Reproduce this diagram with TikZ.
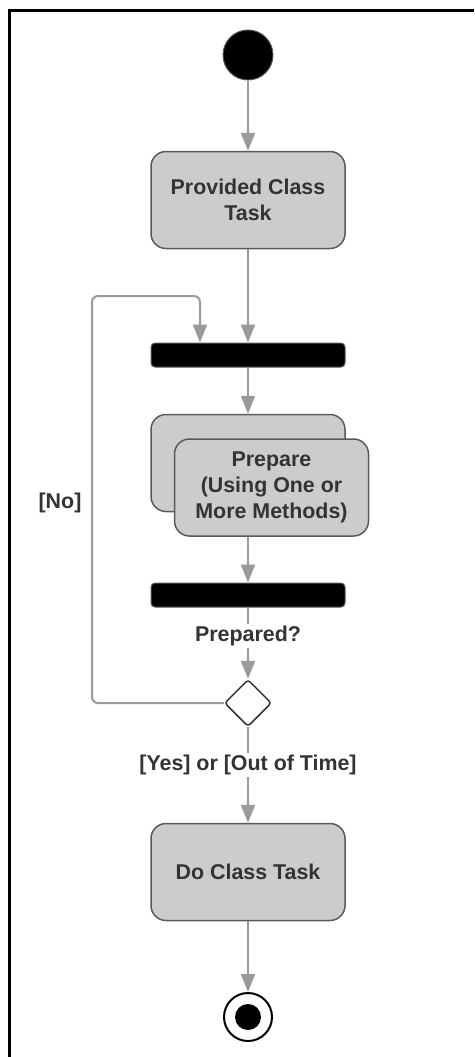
\documentclass[tikz,border=0pt]{standalone}
\usepackage{fontspec}
\setmainfont{Liberation Sans}
\usetikzlibrary{shapes.geometric,arrows.meta,positioning}
\definecolor{linegray}{HTML}{9A9A9A}
\definecolor{boxgray}{HTML}{CCCCCC}
\definecolor{edgegray}{HTML}{5A5A5A}
\definecolor{textgray}{HTML}{333333}
\tikzstyle{startnode} = [circle, minimum size=50pt, inner sep=0pt, fill=black, draw=edgegray, line width=1pt]
\tikzstyle{stopnode} = [circle, minimum size=48pt, inner sep=0pt, draw=black, line width=2pt, fill=white, path picture={\fill[black] (path picture bounding box.center) circle (13pt);}]
\tikzstyle{action} = [rectangle, rounded corners=15pt, minimum width=194pt, minimum height=97pt, text centered, align=center, draw=edgegray, line width=1.5pt, fill=boxgray, text=textgray, font=\bfseries\fontsize{21.4pt}{26pt}\selectfont]
\tikzstyle{forkbar} = [rectangle, rounded corners=4pt, minimum width=194pt, minimum height=24pt, inner sep=0pt, fill=black, draw=edgegray, line width=1pt]
\tikzstyle{decision} = [diamond, minimum width=47pt, minimum height=47pt, inner sep=0pt, rounded corners=3pt, draw=textgray, line width=1.5pt, fill=white]
\tikzstyle{guard} = [fill=white, text=textgray, inner sep=2pt, font=\bfseries\fontsize{21.4pt}{26pt}\selectfont]
\tikzstyle{arrow} = [draw=linegray, line width=2pt, -{Triangle[length=18pt,width=14pt]}]

\begin{document}
\begin{tikzpicture}[node distance=145pt]
	\useasboundingbox (0pt,0pt) rectangle (474pt,-1057pt);
	\draw [line width=3pt] (9pt,-1057pt) -- (9pt,-11pt) -- (474pt,-11pt);

	\node (start) [startnode] at (248pt,-55pt) {};
	\node (provided) [action, below of=start] {Provided Class\\Task};
	\node (fork) [forkbar, below of=provided, yshift=-10pt] {};
	\node (prep) [action, below of=fork, yshift=37pt] {};
	\node (prepfront) [action, at={([xshift=23.5pt,yshift=-24.5pt]prep.center)}] {Prepare\\(Using One or\\More Methods)};
	\node (join) [forkbar, below of=prep, yshift=13pt] {};
	\node (dec) [decision, below of=join, yshift=37pt] {};
	\node (doit) [action, below of=dec, yshift=-24pt] {Do Class Task};
	\node (stop) [stopnode, below of=doit] {};

	\coordinate (loop) at (92pt,-296pt);
	\node (no) [guard] at (60pt,-503pt) {[No]};

	\draw [arrow] (start) -- (provided);
	\draw [arrow] (provided) -- (fork);
	\draw [arrow] (fork) -- (prep);
	\draw [arrow] (prepfront.south -| join.north) -- (join);
	\draw [arrow] (join) -- node[guard, pos=0.4] {Prepared?} (dec);
	\draw [arrow] (dec) -- node[guard, pos=0.4] {[Yes] or [Out of Time]} (doit);
	\draw [arrow] (doit) -- (stop);
	\draw [arrow, rounded corners=6pt] (dec.west) -| (loop) -| ([xshift=-48pt]fork.north);
\end{tikzpicture}
\end{document}
